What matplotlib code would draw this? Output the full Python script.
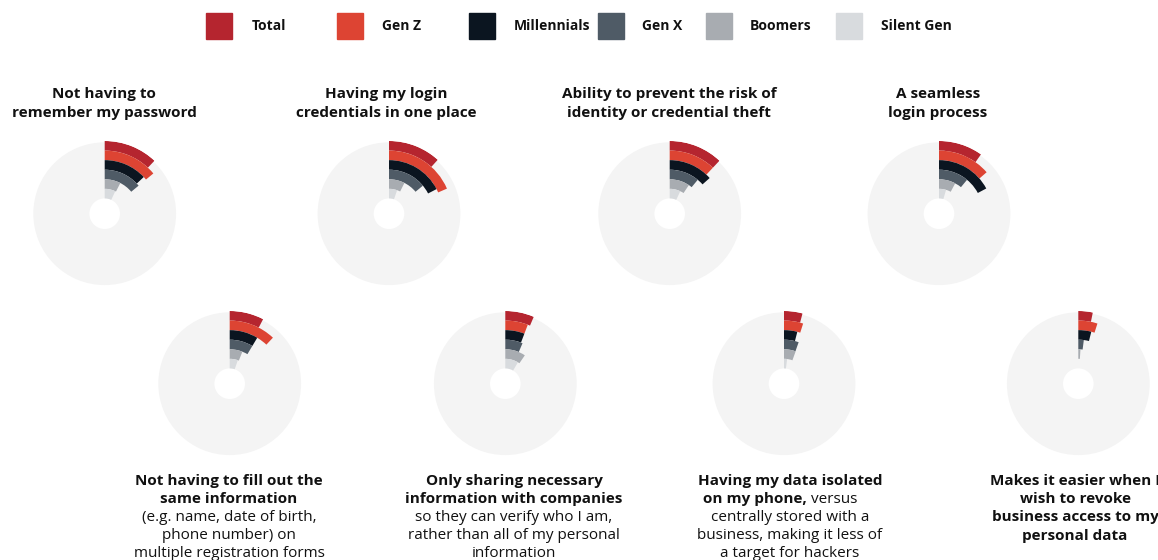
import numpy as np
import matplotlib.pyplot as plt
from matplotlib.patches import Rectangle

plt.rcParams['font.family'] = ['Open Sans', 'DejaVu Sans']

# 世代ごとの割合 (%)
groups = ['Total', 'Gen Z', 'Millennials', 'Gen X', 'Boomers', 'Silent Gen']
colors = ['#b5252f', '#dd4433', '#0b1520', '#4f5b66', '#a8acb1', '#d8dbde']

no_password = [12, 14, 13, 14, 7.5, 7]
one_place = [11.7, 18.5, 17.4, 14, 7.4, 5.3]
prevent_theft = [12, 12, 13.4, 11, 9.4, 7]
seamless = [9.8, 13.6, 17.2, 11, 7.8, 4.6]
fill_forms = [7.6, 12, 8.6, 8.6, 6, 5.3]
necessary_info = [6.4, 5.8, 5.8, 6.4, 9.6, 8.5]
data_on_phone = [4.1, 4.9, 4, 5.4, 5.5, 2]
revoke_access = [3.2, 4.9, 3.9, 2, 1, 0]

W, H = 1158, 560
fig = plt.figure(figsize=(W / 100, H / 100), dpi=100)

R_OUT = 72.7   # 外側の半径(px)
R_DISK = 71.4
R_HOLE = 15.3
ring = (R_OUT - R_HOLE) / len(groups)


def radial(cx, cy, values):
    ax = fig.add_axes([(cx - R_OUT) / W, 1 - (cy + R_OUT) / H,
                       2 * R_OUT / W, 2 * R_OUT / H], projection='polar')
    ax.set_theta_zero_location('N')
    ax.set_theta_direction(-1)
    ax.set_ylim(0, R_OUT)
    ax.bar(0, R_DISK - R_HOLE, width=2 * np.pi, bottom=R_HOLE,
           color='#f4f4f4', align='edge', linewidth=0)
    for i, (v, c) in enumerate(zip(values, colors)):
        inner = R_OUT - (i + 1) * ring
        ax.bar(0, ring, width=v / 100 * 2 * np.pi, bottom=inner,
               color=c, align='edge', linewidth=0)
    ax.axis('off')
    return ax


def ptext(x, y, s, **kw):
    fig.text(x / W, 1 - y / H, s, va='center', color='#111111', **kw)


# 上段
radial(104.7, 213.7, no_password)
radial(389, 213.7, one_place)
radial(669.7, 213.7, prevent_theft)
radial(939, 213.7, seamless)
# 下段
radial(229.7, 383.7, fill_forms)
radial(505.3, 383.7, necessary_info)
radial(784, 383.7, data_on_phone)
radial(1078.3, 383.7, revoke_access)

# 凡例
legend_sq = [206, 337, 469, 598, 706, 836]
legend_tx = [252, 382, 514, 642, 750, 881]
for x, tx, g, c in zip(legend_sq, legend_tx, groups, colors):
    fig.patches.append(Rectangle((x / W, 1 - 39 / H), 26 / W, 26 / H,
                                 transform=fig.transFigure, color=c))
    ptext(tx, 26, g, fontsize=10, fontweight='bold', ha='left')

# 上段タイトル
titles = [(104, 'Not having to\nremember my password'),
          (386, 'Having my login\ncredentials in one place'),
          (669, 'Ability to prevent the risk of\nidentity or credential theft'),
          (938, 'A seamless\nlogin process')]
for x, t in titles:
    for k, line in enumerate(t.split('\n')):
        ptext(x, 94 + k * 18.5, line, fontsize=11, fontweight='bold', ha='center')

# 下段ラベル
lh = 18.2
y0 = 481
lab5 = [('Not having to fill out the', 'bold'), ('same information', 'bold'),
        ('(e.g. name, date of birth,', 'normal'), ('phone number) on', 'normal'),
        ('multiple registration forms', 'normal')]
lab6 = [('Only sharing necessary', 'bold'), ('information with companies', 'bold'),
        ('so they can verify who I am,', 'normal'),
        ('rather than all of my personal', 'normal'), ('information', 'normal')]
lab8 = [('Makes it easier when I', 'bold'), ('wish to revoke', 'bold'),
        ('business access to my', 'bold'), ('personal data', 'bold')]
for x, lab in [(229, lab5), (514, lab6), (1075, lab8)]:
    for k, (line, w) in enumerate(lab):
        ptext(x, y0 + k * lh, line, fontsize=11, fontweight=w, ha='center')

ptext(790, y0, 'Having my data isolated', fontsize=11, fontweight='bold', ha='center')
ptext(807, y0 + lh, 'on my phone,', fontsize=11, fontweight='bold', ha='right')
ptext(811, y0 + lh, 'versus', fontsize=11, ha='left')
for k, line in enumerate(['centrally stored with a', 'business, making it less of',
                          'a target for hackers']):
    ptext(790, y0 + (k + 2) * lh, line, fontsize=11, ha='center')

fig.savefig('out.png', dpi=100)
